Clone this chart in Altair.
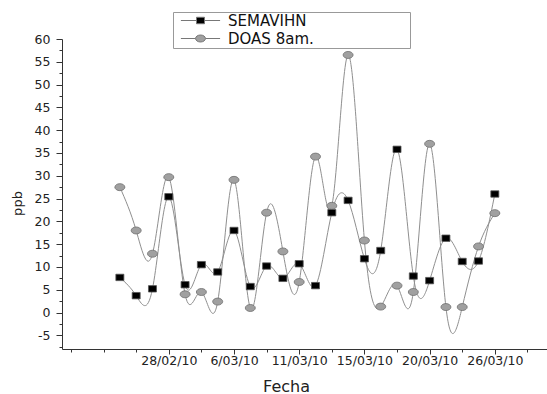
import altair as alt
import pandas as pd

# ---- data ----
idx = list(range(3, 27))
semavihn = [7.7, 3.7, 5.2, 25.4, 6.1, 10.5, 8.9, 18.0, 5.7, 10.2, 7.5, 10.7,
            5.9, 21.9, 24.6, 11.8, 13.6, 35.8, 8.0, 7.0, 16.3, 11.2, 11.3, 26.0]
doas = [27.5, 18.0, 12.9, 29.7, 4.0, 4.5, 2.4, 29.1, 1.0, 21.9, 13.4, 6.7,
        34.2, 23.4, 56.5, 15.8, 1.3, 5.9, 4.5, 37.0, 1.2, 1.2, 14.5, 21.8]
series_names = ["SEMAVIHN", "DOAS 8am."]
tick_pos = list(range(0, 29, 2))
label_pos = [6, 10, 14, 18, 22, 26]
tick_labels = ["28/02/10", "6/03/10", "11/03/10", "15/03/10", "20/03/10", "26/03/10"]
y_ticks = [v / 2 for v in range(-15, 121, 5)]

df = pd.DataFrame({
    "idx": idx * 2,
    "value": semavihn + doas,
    "series": [series_names[0]] * len(idx) + [series_names[1]] * len(idx),
})

FONT = "DejaVu Sans"
label_expr = " : ".join(
    f"datum.value == {p} ? '{t}'" for p, t in zip(label_pos, tick_labels)
) + " : ''"
label_test = " || ".join(f"datum.value == {p}" for p in label_pos)

x_enc = alt.X(
    "idx:Q",
    scale=alt.Scale(domain=[-0.55, 29.2], nice=False, zero=False),
    axis=alt.Axis(
        values=tick_pos, labelExpr=label_expr, title="Fecha", grid=False,
        tickSize={"condition": {"test": label_test, "value": 5}, "value": 3},
        labelPadding=0, labelFont=FONT, labelFontSize=12.5, labelColor="#222",
        labelFlush=False, labelOverlap=False,
        titleFont=FONT, titleFontSize=16, titleFontWeight="normal", titleColor="#222",
        titleX=224, titleY=42, titleAlign="center", titleBaseline="alphabetic",
        domainColor="#333", tickColor="#333",
    ),
)
y_enc = alt.Y(
    "value:Q",
    scale=alt.Scale(domain=[-8, 60], nice=False, zero=False),
    axis=alt.Axis(
        values=y_ticks,
        labelExpr="datum.value % 5 == 0 ? (datum.value < 0 ? '-' + abs(datum.value) : '' + datum.value) : ''",
        tickSize={"condition": {"test": "datum.value % 5 == 0", "value": 6}, "value": 3},
        title="ppb", grid=False, labelPadding=6,
        labelFont=FONT, labelFontSize=12.5, labelColor="#222",
        titleFont=FONT, titleFontSize=13, titleFontWeight="normal", titleColor="#222",
        titleX=-45, titleY=164, titleAngle=270, titleAlign="center", titleBaseline="middle",
        domainColor="#333", tickColor="#333",
    ),
)

base = alt.Chart(df)

lines = base.mark_line(interpolate="natural", strokeWidth=1, color="#8f8f8f").encode(
    x=x_enc, y=y_enc, detail="series:N"
)

SQ = "M-1,-0.8H1V0.8H-1Z"
CI = "M-1,0A1,0.7 0 1,0 1,0A1,0.7 0 1,0 -1,0Z"

pts_sem = base.transform_filter(alt.datum.series == series_names[0]).mark_point(
    shape=SQ, size=64, filled=True, fill="#000000", stroke="#555555", strokeWidth=0.8, opacity=1
).encode(x=x_enc, y=y_enc)
pts_doas = base.transform_filter(alt.datum.series == series_names[1]).mark_point(
    shape=CI, size=100, filled=True, fill="#a0a0a0", stroke="#6e6e6e", strokeWidth=0.8, opacity=1
).encode(x=x_enc, y=y_enc)

SQ_LEG = "M-2.8,0H-0.57M0.57,0H2.8M-0.57,-0.46H0.57V0.46H-0.57Z"
CI_LEG = "M-2.8,0H-0.71M0.71,0H2.8M-0.71,0A0.71,0.5 0 1,0 0.71,0A0.71,0.5 0 1,0 -0.71,0Z"

leg = alt.Legend(
    title=" ", titleOrient="right", titlePadding=95, titleFontSize=4,
    orient="none", legendX=111, legendY=-27, direction="vertical",
    symbolSize=196, symbolStrokeWidth=1, symbolOffset=19, labelOffset=20,
    symbolOpacity=1,
    labelFont=FONT, labelFontSize=15, labelColor="#111", padding=1, rowPadding=2,
    strokeColor="#999999", fillColor="white",
)
legend_layer = base.transform_filter("false").mark_point(filled=True, opacity=1).encode(
    x=x_enc, y=y_enc,
    shape=alt.Shape("series:N", scale=alt.Scale(domain=series_names, range=[SQ_LEG, CI_LEG]), legend=leg),
    fill=alt.Fill("series:N", scale=alt.Scale(domain=series_names, range=["#000000", "#a0a0a0"]), legend=leg),
    stroke=alt.Stroke("series:N", scale=alt.Scale(domain=series_names, range=["#777777", "#777777"]), legend=leg),
)

chart = alt.layer(lines, pts_doas, pts_sem, legend_layer).properties(
    width=485, height=310,
    autosize=alt.AutoSizeParams(type="none"),
    padding={"left": 62, "top": 39, "right": 0, "bottom": 45},
    background="white",
).configure_view(stroke=None)

chart.save("out.html", embed_options={"renderer": "svg", "actions": False})
